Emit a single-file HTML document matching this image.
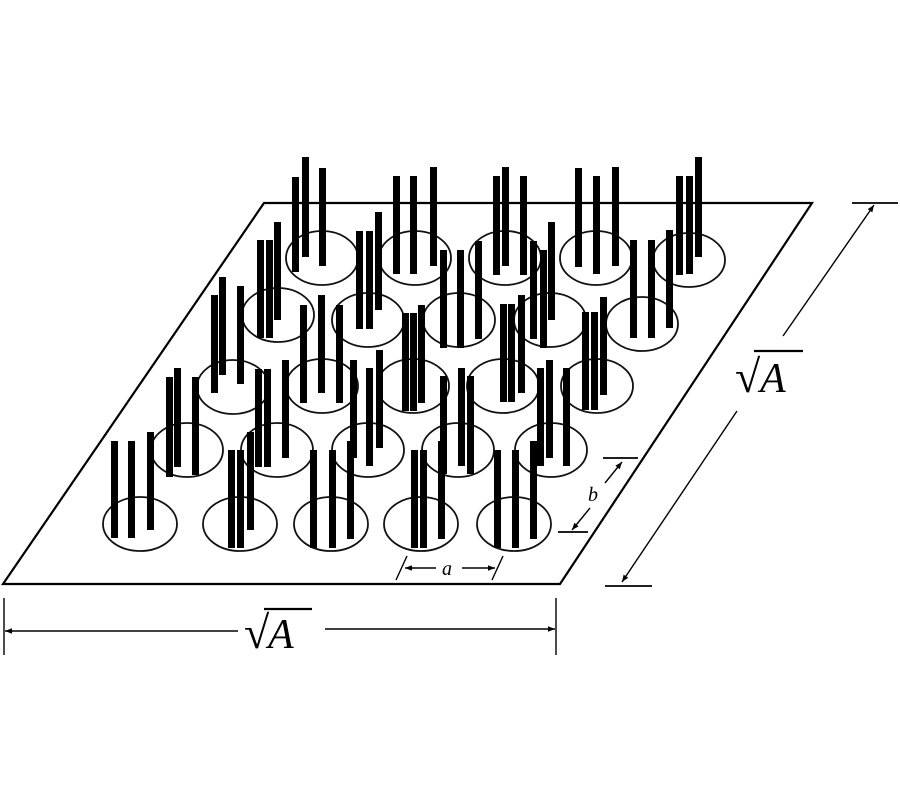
<!DOCTYPE html>
<html><head><meta charset="utf-8"><style>html,body{margin:0;padding:0;background:#fff;}svg{display:block;}</style></head>
<body>
<svg width="900" height="800" viewBox="0 0 900 800" xmlns="http://www.w3.org/2000/svg">
<defs>
<marker id="ar" viewBox="0 0 10 10" refX="10" refY="5" markerWidth="9" markerHeight="7" orient="auto-start-reverse" markerUnits="userSpaceOnUse"><path d="M0,1 L10,5 L0,9 z" fill="#000"/></marker>
</defs>
<rect width="900" height="800" fill="#fff"/>
<polygon points="264,203 812,203 560,584 3,584" fill="none" stroke="#000" stroke-width="2.2"/>
<g fill="none" stroke="#111" stroke-width="1.8">
<ellipse cx="322" cy="258" rx="36" ry="27"/><ellipse cx="415" cy="258" rx="36" ry="27"/><ellipse cx="505" cy="258" rx="36" ry="27"/><ellipse cx="596" cy="258" rx="36" ry="27"/><ellipse cx="689" cy="260" rx="36" ry="27"/>
<ellipse cx="278" cy="315" rx="36" ry="27"/><ellipse cx="368" cy="320" rx="36" ry="27"/><ellipse cx="459" cy="320" rx="36" ry="27"/><ellipse cx="550" cy="320" rx="36" ry="27"/><ellipse cx="642" cy="324" rx="36" ry="27"/>
<ellipse cx="233" cy="387" rx="36" ry="27"/><ellipse cx="322" cy="386" rx="36" ry="27"/><ellipse cx="413" cy="386" rx="36" ry="27"/><ellipse cx="503" cy="386" rx="36" ry="27"/><ellipse cx="597" cy="386" rx="36" ry="27"/>
<ellipse cx="187" cy="450" rx="36" ry="27"/><ellipse cx="277" cy="450" rx="36" ry="27"/><ellipse cx="368" cy="450" rx="36" ry="27"/><ellipse cx="458" cy="450" rx="36" ry="27"/><ellipse cx="551" cy="450" rx="36" ry="27"/>
<ellipse cx="140" cy="524" rx="37" ry="27"/><ellipse cx="240" cy="524" rx="37" ry="27"/><ellipse cx="331" cy="524" rx="37" ry="27"/><ellipse cx="421" cy="524" rx="37" ry="27"/><ellipse cx="514" cy="524" rx="37" ry="27"/>
</g>
<g fill="#000">
<rect x="292" y="177" width="7" height="95"/><rect x="302" y="157" width="7" height="100"/><rect x="319" y="168" width="7" height="98"/>
<rect x="393" y="176" width="7" height="98"/><rect x="410" y="176" width="7" height="98"/><rect x="430" y="167" width="7" height="99"/>
<rect x="493" y="176" width="7" height="99"/><rect x="502" y="167" width="7" height="99"/><rect x="520" y="176" width="7" height="99"/>
<rect x="575" y="168" width="7" height="99"/><rect x="593" y="176" width="7" height="98"/><rect x="612" y="167" width="7" height="99"/>
<rect x="676" y="176" width="7" height="99"/><rect x="686" y="176" width="7" height="98"/><rect x="695" y="157" width="7" height="100"/>
<rect x="257" y="240" width="7" height="98"/><rect x="266" y="240" width="7" height="98"/><rect x="274" y="222" width="7" height="98"/>
<rect x="356" y="231" width="7" height="98"/><rect x="366" y="231" width="7" height="98"/><rect x="375" y="212" width="7" height="98"/>
<rect x="440" y="250" width="7" height="98"/><rect x="457" y="250" width="7" height="98"/><rect x="475" y="241" width="7" height="98"/>
<rect x="530" y="241" width="7" height="98"/><rect x="540" y="250" width="7" height="98"/><rect x="548" y="222" width="7" height="98"/>
<rect x="630" y="240" width="7" height="98"/><rect x="648" y="240" width="7" height="98"/><rect x="666" y="230" width="7" height="98"/>
<rect x="211" y="295" width="7" height="98"/><rect x="219" y="277" width="7" height="98"/><rect x="237" y="286" width="7" height="98"/>
<rect x="300" y="305" width="7" height="98"/><rect x="318" y="295" width="7" height="98"/><rect x="336" y="305" width="7" height="98"/>
<rect x="402" y="313" width="7" height="98"/><rect x="410" y="313" width="7" height="98"/><rect x="418" y="305" width="7" height="98"/>
<rect x="500" y="304" width="7" height="98"/><rect x="508" y="304" width="7" height="98"/><rect x="518" y="295" width="7" height="98"/>
<rect x="582" y="312" width="7" height="98"/><rect x="591" y="312" width="7" height="98"/><rect x="600" y="297" width="7" height="98"/>
<rect x="166" y="377" width="7" height="100"/><rect x="174" y="368" width="7" height="99"/><rect x="192" y="377" width="7" height="98"/>
<rect x="255" y="369" width="7" height="98"/><rect x="264" y="369" width="7" height="98"/><rect x="282" y="360" width="7" height="98"/>
<rect x="350" y="360" width="7" height="98"/><rect x="366" y="368" width="7" height="98"/><rect x="376" y="350" width="7" height="98"/>
<rect x="440" y="376" width="7" height="98"/><rect x="458" y="368" width="7" height="98"/><rect x="467" y="376" width="7" height="98"/>
<rect x="537" y="368" width="7" height="98"/><rect x="546" y="360" width="7" height="98"/><rect x="563" y="368" width="7" height="98"/>
<rect x="111" y="441" width="7" height="97"/><rect x="128" y="441" width="7" height="97"/><rect x="147" y="432" width="7" height="98"/>
<rect x="228" y="450" width="7" height="98"/><rect x="237" y="450" width="7" height="98"/><rect x="247" y="432" width="7" height="98"/>
<rect x="310" y="450" width="7" height="98"/><rect x="329" y="450" width="7" height="98"/><rect x="347" y="441" width="7" height="98"/>
<rect x="411" y="450" width="7" height="98"/><rect x="420" y="450" width="7" height="98"/><rect x="438" y="441" width="7" height="98"/>
<rect x="494" y="450" width="7" height="98"/><rect x="512" y="450" width="7" height="98"/><rect x="530" y="441" width="7" height="98"/>
</g>
<g stroke="#000" stroke-width="1.4" fill="none">
<line x1="4" y1="598" x2="4" y2="655"/><line x1="556" y1="598" x2="556" y2="655"/>
<line x1="5" y1="631" x2="238" y2="631" marker-start="url(#ar)"/>
<line x1="325" y1="629" x2="555" y2="629" marker-end="url(#ar)"/>
<line x1="264" y1="609" x2="312" y2="609" stroke-width="2.2"/>
<line x1="852" y1="203" x2="898" y2="203" stroke-width="1.8"/>
<line x1="605" y1="586" x2="652" y2="586" stroke-width="1.8"/>
<line x1="783" y1="336" x2="874" y2="205" marker-end="url(#ar)"/>
<line x1="737" y1="411" x2="622" y2="582" marker-end="url(#ar)"/>
<line x1="754" y1="351" x2="803" y2="351" stroke-width="2.2"/>
<line x1="396" y1="580" x2="407" y2="556"/><line x1="492" y1="580" x2="503" y2="556"/>
<line x1="436" y1="568" x2="405" y2="568" marker-end="url(#ar)"/>
<line x1="462" y1="568" x2="495" y2="568" marker-end="url(#ar)"/>
<line x1="603" y1="458" x2="638" y2="458" stroke-width="1.8"/>
<line x1="558" y1="532" x2="588" y2="532" stroke-width="1.8"/>
<line x1="605" y1="483" x2="622" y2="462" marker-end="url(#ar)"/>
<line x1="590" y1="508" x2="572" y2="530" marker-end="url(#ar)"/>
</g>
<g font-family="Liberation Serif, serif" fill="#000">
<text x="244" y="648" font-size="46" font-weight="bold">√</text><text x="268" y="648" font-size="42" font-style="italic">A</text>
<text x="735" y="392" font-size="46" font-weight="bold">√</text><text x="760" y="392" font-size="42" font-style="italic">A</text>
<text x="442" y="575" font-size="20" font-style="italic">a</text>
<text x="588" y="501" font-size="20" font-style="italic">b</text>
</g>
</svg>
</body></html>
